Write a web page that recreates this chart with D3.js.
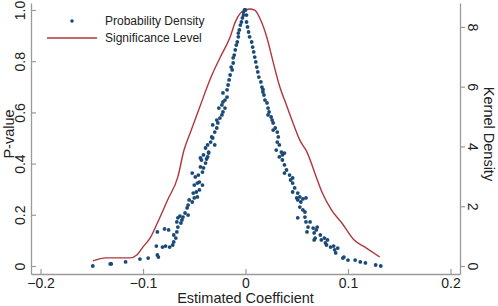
<!DOCTYPE html>
<html>
<head>
<meta charset="utf-8">
<script src="https://cdn.jsdelivr.net/npm/d3@7"></script>
<style>
	body { margin: 0; background: #fff; }
	svg text { font-family: Arial, "Liberation Sans", sans-serif; fill: #222; }
</style>
</head>
<body>
<div id="chart"></div>
<script>
// scatter: estimated coefficient vs p-value
const pointX = [
	-0.149, -0.132, -0.131, -0.117, -0.103, -0.095, -0.086, -0.085, -0.087, -0.086,
	-0.081, -0.078, -0.074, -0.071, -0.070, -0.068, -0.075, -0.079, -0.070, -0.067,
	-0.066, -0.063, -0.067, -0.066, -0.062, -0.061, -0.064, -0.059, -0.056, -0.057,
	-0.056, -0.055, -0.052, -0.050, -0.051, -0.047, -0.048, -0.045, -0.050, -0.047,
	-0.045, -0.042, -0.049, -0.052, -0.046, -0.042, -0.044, -0.041, -0.039, -0.043,
	-0.038, -0.037, -0.041, -0.036, -0.044, -0.039, -0.037, -0.036, -0.034, -0.033,
	-0.032, -0.030, -0.028, -0.032, -0.027, -0.025, -0.028, -0.023, -0.022, -0.026,
	-0.023, -0.022, -0.020, -0.018, -0.022, -0.018, -0.017, -0.016, -0.015, -0.013,
	-0.014, -0.012, -0.012, -0.011, -0.010, -0.009, -0.008, -0.007, -0.007, -0.006,
	-0.005, -0.004, -0.003, -0.002, -0.002, -0.001, -0.020, -0.030, 0.000,
	0.001, 0.001, 0.002, 0.003, 0.004, 0.006, 0.007, 0.008, 0.009, 0.010,
	0.011, 0.012, 0.013, 0.015, 0.016, 0.017, 0.018, 0.019, 0.017, 0.021,
	0.022, 0.023, 0.025, 0.022, 0.026, 0.027, 0.029, 0.027, 0.031, 0.032,
	0.031, 0.033, 0.030, 0.035, 0.036, 0.033, 0.038,
	0.036, 0.038, 0.040, 0.038, 0.043, 0.046, 0.044, 0.046, 0.048, 0.046,
	0.051, 0.050, 0.054, 0.059, 0.053, 0.056, 0.051, 0.053, 0.056, 0.058,
	0.051, 0.058, 0.059, 0.063, 0.061, 0.066, 0.070, 0.060, 0.069, 0.067,
	0.068, 0.073, 0.067, 0.074, 0.077, 0.080, 0.078, 0.079, 0.083, 0.086,
	0.087, 0.090, 0.088, 0.095, 0.096, 0.100, 0.107, 0.112, 0.117, 0.127,
	0.132
];
const pointP = [
	0.000, 0.008, 0.008, 0.016, 0.027, 0.031, 0.043, 0.035, 0.078, 0.133,
	0.074, 0.078, 0.074, 0.082, 0.094, 0.109, 0.141, 0.145, 0.121, 0.133,
	0.152, 0.168, 0.172, 0.188, 0.180, 0.191, 0.195, 0.207, 0.199, 0.227,
	0.238, 0.258, 0.250, 0.266, 0.285, 0.270, 0.289, 0.297, 0.316, 0.324,
	0.328, 0.316, 0.348, 0.363, 0.355, 0.367, 0.387, 0.383, 0.402, 0.414,
	0.418, 0.426, 0.434, 0.441, 0.422, 0.461, 0.473, 0.445, 0.484, 0.504,
	0.500, 0.523, 0.539, 0.551, 0.559, 0.578, 0.570, 0.590, 0.602, 0.617,
	0.629, 0.641, 0.648, 0.660, 0.676, 0.688, 0.707, 0.727, 0.746, 0.766,
	0.777, 0.793, 0.813, 0.824, 0.844, 0.863, 0.875, 0.895, 0.910, 0.922,
	0.941, 0.953, 0.969, 0.980, 0.992, 1.000, 0.617, 0.473, 1.000,
	0.980, 0.953, 0.934, 0.914, 0.895, 0.875, 0.855, 0.836, 0.816, 0.797,
	0.777, 0.758, 0.738, 0.719, 0.699, 0.680, 0.668, 0.648, 0.690, 0.637,
	0.617, 0.602, 0.582, 0.590, 0.570, 0.559, 0.539, 0.531, 0.523, 0.504,
	0.484, 0.473, 0.453, 0.445, 0.434, 0.426, 0.441,
	0.414, 0.395, 0.375, 0.363, 0.355, 0.344, 0.336, 0.324, 0.305, 0.289,
	0.285, 0.266, 0.250, 0.266, 0.270, 0.262, 0.258, 0.230, 0.219, 0.211,
	0.188, 0.191, 0.172, 0.172, 0.152, 0.148, 0.152, 0.133, 0.141, 0.129,
	0.109, 0.121, 0.102, 0.102, 0.109, 0.102, 0.090, 0.082, 0.074, 0.078,
	0.063, 0.070, 0.051, 0.031, 0.035, 0.023, 0.023, 0.016, 0.012, 0.004,
	0.000
];

// kernel density curve (right axis)
const curveX = [
	-0.149, -0.136, -0.124, -0.113, -0.106, -0.100, -0.093, -0.086, -0.076, -0.066,
	-0.060, -0.054, -0.044, -0.034, -0.025, -0.015, -0.010, -0.005, 0.000, 0.004,
	0.009, 0.014, 0.021, 0.027, 0.033, 0.040, 0.046, 0.053, 0.060, 0.069,
	0.075, 0.084, 0.094, 0.106, 0.118, 0.131
];
const curveY = [
	0.17, 0.27, 0.27, 0.27, 0.37, 0.64, 0.94, 1.44, 2.21, 2.98,
	3.88, 4.45, 5.38, 6.29, 6.96, 7.66, 8.16, 8.46, 8.56, 8.60,
	8.56, 8.29, 7.63, 6.82, 6.05, 5.38, 4.82, 4.21, 3.81, 2.98,
	2.44, 1.87, 1.44, 0.87, 0.60, 0.30
];

const xTicks = [-0.2, -0.1, 0, 0.1, 0.2];
const pTicks = [0, 0.2, 0.4, 0.6, 0.8, 1.0];
const densTicks = [0, 2, 4, 6, 8];

const width = 498;
const height = 306;
const plot = { left: 31, right: 460, top: 3, bottom: 274 };
const dotColor = '#1b4a78';
const lineColor = '#b0363c';
const axisColor = '#9a9a9a';

const svg = d3.select('#chart').append('svg')
	.attr('width', width)
	.attr('height', height);

const x = d3.scaleLinear().domain([-0.2093, 0.2093]).range([plot.left, plot.right]);
const y = d3.scaleLinear().domain([-0.03125, 1.0273]).range([plot.bottom, plot.top]);
const y2 = d3.scaleLinear().domain([-0.268, 8.80]).range([plot.bottom, plot.top]);

const tickFmt = d => d === 0 ? '0' : d3.format('.1f')(d);

// axes
const xAxisG = svg.append('g')
	.attr('transform', `translate(0, ${plot.bottom})`)
	.call(d3.axisBottom(x).tickValues(xTicks).tickSize(-5).tickSizeOuter(0).tickPadding(4)
		.tickFormat(tickFmt));
const yAxisG = svg.append('g')
	.attr('transform', `translate(${plot.left}, 0)`)
	.call(d3.axisLeft(y).tickValues(pTicks).tickSize(-5).tickSizeOuter(0)
		.tickFormat(tickFmt));
const y2AxisG = svg.append('g')
	.attr('transform', `translate(${plot.right}, 0)`)
	.call(d3.axisRight(y2).tickValues(densTicks).tickSize(5).tickSizeOuter(0));

[xAxisG, yAxisG, y2AxisG].forEach(g => {
	g.select('.domain').attr('stroke', axisColor).attr('stroke-width', 1.3);
	g.selectAll('.tick line').attr('stroke', axisColor).attr('stroke-width', 1.2);
	g.selectAll('.tick text')
		.style('font-size', '14px')
		.attr('fill', '#222');
});

// rotate the y tick labels like the original
yAxisG.selectAll('.tick text')
	.attr('x', null).attr('dy', null)
	.attr('transform', 'translate(-11, 0) rotate(-90)')
	.attr('text-anchor', 'middle')
	.attr('dominant-baseline', 'central');
y2AxisG.selectAll('.tick text')
	.attr('x', null).attr('dy', null)
	.attr('transform', 'translate(13, 0) rotate(90)')
	.attr('text-anchor', 'middle')
	.attr('dominant-baseline', 'central');

// axis titles
svg.append('text')
	.attr('x', x(0))
	.attr('y', 303)
	.attr('text-anchor', 'middle')
	.style('font-size', '14.5px')
	.text('Estimated Coefficient');
svg.append('text')
	.attr('transform', 'translate(9, 134) rotate(-90)')
	.attr('text-anchor', 'middle')
	.attr('dominant-baseline', 'central')
	.style('font-size', '14.5px')
	.text('P-value');
svg.append('text')
	.attr('transform', 'translate(489, 134) rotate(90)')
	.attr('text-anchor', 'middle')
	.attr('dominant-baseline', 'central')
	.style('font-size', '14.5px')
	.text('Kernel Density');

// red curve
const curve = curveX.map((v, i) => ({ x: v, y: curveY[i] }));
const lineFunc = d3.line()
	.x(d => x(d.x))
	.y(d => y2(d.y))
	.curve(d3.curveMonotoneX);
svg.append('path')
	.datum(curve)
	.attr('fill', 'none')
	.attr('stroke', lineColor)
	.attr('stroke-width', 1.4)
	.attr('d', lineFunc);

// dots
const points = pointX.map((v, i) => ({ x: v, p: pointP[i] }));
svg.append('g').selectAll('circle')
	.data(points)
	.enter()
	.append('circle')
	.attr('cx', d => x(d.x))
	.attr('cy', d => y(d.p))
	.attr('r', 1.9)
	.attr('fill', dotColor);

// legend
const legendG = svg.append('g');
legendG.append('circle')
	.attr('cx', 72).attr('cy', 21).attr('r', 1.8)
	.attr('fill', dotColor);
legendG.append('line')
	.attr('x1', 47).attr('x2', 97)
	.attr('y1', 38).attr('y2', 38)
	.attr('stroke', lineColor)
	.attr('stroke-width', 1.4);
legendG.append('text')
	.attr('x', 105).attr('y', 25)
	.style('font-size', '12px')
	.text('Probability Density');
legendG.append('text')
	.attr('x', 105).attr('y', 42)
	.style('font-size', '12px')
	.text('Significance Level');
</script>
</body>
</html>
